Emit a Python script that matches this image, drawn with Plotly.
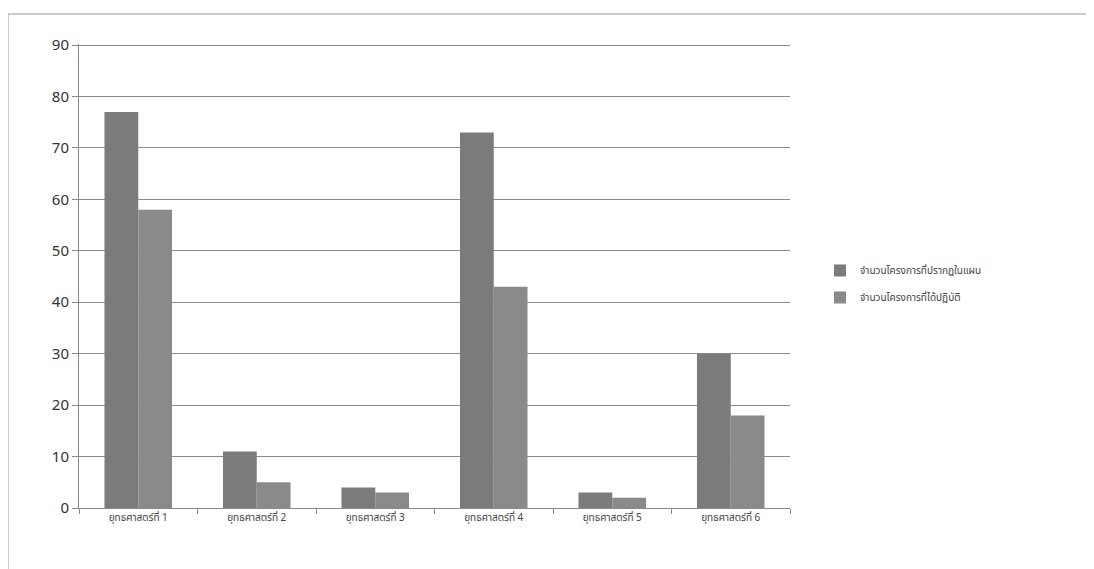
import plotly.graph_objects as go

categories = ["ยุทธศาสตร์ที่ 1", "ยุทธศาสตร์ที่ 2", "ยุทธศาสตร์ที่ 3",
              "ยุทธศาสตร์ที่ 4", "ยุทธศาสตร์ที่ 5", "ยุทธศาสตร์ที่ 6"]
planned = [77, 11, 4, 73, 3, 30]
done = [58, 5, 3, 43, 2, 18]
series_names = ["จำนวนโครงการที่ปรากฏในแผน", "จำนวนโครงการที่ได้ปฏิบัติ"]
y_ticks = [0, 10, 20, 30, 40, 50, 60, 70, 80, 90]

FONT = "Noto Sans Thai, Tahoma, DejaVu Sans, sans-serif"

fig = go.Figure()
fig.add_trace(go.Bar(x=categories, y=planned, name=series_names[0],
                     legendgroup="a",
                     marker=dict(color="#7b7b7b", line=dict(width=0))))
fig.add_trace(go.Bar(x=categories, y=done, name=series_names[1],
                     legendgroup="b",
                     marker=dict(color="#8a8a8a", line=dict(width=0))))

# page body has an 8px margin; figure is sized to fit the 1094x569 window
W, H = 1086, 561
l, t, r, b = 71, 36, 304, 61
pw, ph = W - l - r, H - t - b

fig.update_layout(
    width=W, height=H,
    barmode="group", bargap=0.43, bargroupgap=0,
    plot_bgcolor="white", paper_bgcolor="white",
    margin=dict(l=l, r=r, t=t, b=b),
    font=dict(family=FONT, color="#444444"),
    legend=dict(x=(820 - 8 - l) / pw, y=(500 - 276) / ph, xanchor="left", yanchor="middle",
                font=dict(size=10, color="#444444"), tracegroupgap=8,
                traceorder="grouped"),
    xaxis=dict(showgrid=False, showline=True, linecolor="#888888", linewidth=1,
               ticks="outside", ticklen=5, tickcolor="#888888",
               tickson="boundaries", tickfont=dict(size=10, color="#444444")),
    yaxis=dict(range=[0, 90.2], tickvals=y_ticks, showgrid=True,
               gridcolor="#8a8a8a", gridwidth=1, showline=True,
               linecolor="#888888", ticks="outside", ticklen=6,
               tickcolor="#888888", tickfont=dict(size=15, color="#333333"),
               zeroline=False),
    shapes=[dict(type="rect", xref="paper", yref="paper",
                 x0=(0 - l) / pw, x1=(1084 - l) / pw,
                 y0=(ph + 20) / ph * 0 - 0.3, y1=(500 - 6) / ph,
                 line=dict(color="#bbbbbb", width=1.5), fillcolor="rgba(0,0,0,0)",
                 layer="below")],
)

fig.write_html("out.html")
